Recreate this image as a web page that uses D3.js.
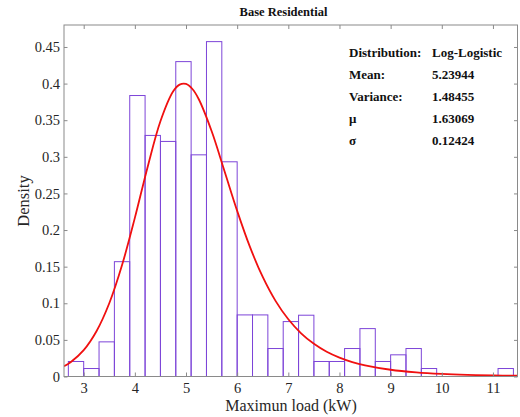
<!DOCTYPE html>
<html>
<head>
<meta charset="utf-8">
<script src="https://cdn.jsdelivr.net/npm/d3@7"></script>
<style>
  body { margin: 0; background: #fff; }
  text { font-family: "Liberation Serif", "Times New Roman", serif; }
</style>
</head>
<body>
<div id="chart"></div>
<script>
// histogram bins (kW) and their density
const binEdges = [2.7, 3.0, 3.3, 3.6, 3.9, 4.2, 4.5, 4.8, 5.1, 5.4, 5.7, 6.0, 6.3, 6.6, 6.9,
  7.2, 7.5, 7.8, 8.1, 8.4, 8.7, 9.0, 9.3, 9.6, 9.9, 10.2, 10.5, 10.8, 11.1, 11.4];
const density = [0.0205, 0.0109, 0.0473, 0.1568, 0.3837, 0.3292, 0.3210, 0.4300, 0.3027,
  0.4573, 0.2932, 0.0841, 0.0841, 0.0382, 0.0750, 0.0837, 0.0205, 0.0205, 0.0382, 0.0654,
  0.0205, 0.0296, 0.0382, 0.0109, 0, 0, 0, 0, 0.0109];

// fitted log-logistic curve
const curveX = [2.615, 2.75, 3.0, 3.25, 3.5, 3.75, 4.0, 4.25, 4.5, 4.75, 4.875, 5.0, 5.125, 5.25,
  5.5, 5.75, 6.0, 6.25, 6.5, 6.75, 7.0, 7.25, 7.5, 7.75, 8.0, 8.25, 8.5, 9.0, 9.5, 10.0, 10.5, 11.0, 11.48];
const curveY = [0.0140, 0.0198, 0.0360, 0.0618, 0.1000, 0.1522, 0.2166, 0.2862, 0.3486, 0.3895,
  0.3986, 0.3995, 0.3926, 0.3786, 0.3352, 0.2810, 0.2262, 0.1770, 0.1360, 0.1033, 0.0781, 0.0590,
  0.0446, 0.0338, 0.0258, 0.0197, 0.0152, 0.0092, 0.0057, 0.0036, 0.0023, 0.0015, 0.0010];

const xTicks = [3, 4, 5, 6, 7, 8, 9, 10, 11];
const yTicks = [0, 0.05, 0.1, 0.15, 0.2, 0.25, 0.3, 0.35, 0.4, 0.45];
const yTickLabels = ['0', '0.05', '0.1', '0.15', '0.2', '0.25', '0.3', '0.35', '0.4', '0.45'];

const statNames = ['Distribution:', 'Mean:', 'Variance:', '\u03bc', '\u03c3'];
const statValues = ['Log-Logistic', '5.23944', '1.48455', '1.63069', '0.12424'];

const width = 520;
const height = 417;
const margin = { top: 25, bottom: 40.5, left: 64, right: 2.5 };

const svg = d3.select('#chart')
  .append('svg')
  .attr('width', width)
  .attr('height', height);

const x = d3.scaleLinear()
  .domain([2.615, 11.48])
  .range([margin.left, width - margin.right]);

const y = d3.scaleLinear()
  .domain([0, 0.48])
  .range([height - margin.bottom, margin.top]);

svg.append('clipPath').attr('id', 'plot-clip')
  .append('rect')
  .attr('x', margin.left).attr('y', margin.top)
  .attr('width', width - margin.left - margin.right)
  .attr('height', height - margin.top - margin.bottom);

// bars
svg.append('g')
  .attr('fill', 'none')
  .attr('stroke', '#7d45d8')
  .attr('stroke-width', 1)
  .selectAll('rect')
  .data(density)
  .join('rect')
    .attr('x', (d, i) => x(binEdges[i]))
    .attr('y', d => y(d))
    .attr('width', (d, i) => x(binEdges[i + 1]) - x(binEdges[i]))
    .attr('height', d => y(0) - y(d));

// fitted curve
const line = d3.line()
  .x(d => x(d[0]))
  .y(d => y(d[1]))
  .curve(d3.curveCatmullRom);

svg.append('path')
  .datum(curveX.map((v, i) => [v, curveY[i]]))
  .attr('clip-path', 'url(#plot-clip)')
  .attr('fill', 'none')
  .attr('stroke', '#f01010')
  .attr('stroke-width', 1.8)
  .attr('d', line);

// axes (ticks pointing inwards, box around)
const axisColor = '#8a8a8a';
const labelColor = '#262626';

function styleAxis(g) {
  g.select('.domain').remove();
  g.selectAll('.tick line').attr('stroke', axisColor);
  g.selectAll('.tick text')
    .attr('fill', labelColor)
    .attr('font-size', '14.5px')
    .attr('font-family', '"Liberation Serif", serif');
}

svg.append('g')
  .attr('transform', `translate(0,${y(0)})`)
  .call(d3.axisBottom(x).tickValues(xTicks).tickFormat(d3.format('d'))
    .tickSizeInner(-4).tickSizeOuter(0).tickPadding(6))
  .call(styleAxis);

svg.append('g')
  .attr('transform', `translate(0,${margin.top})`)
  .call(d3.axisTop(x).tickValues(xTicks).tickFormat('')
    .tickSizeInner(-4).tickSizeOuter(0))
  .call(styleAxis);

svg.append('g')
  .attr('transform', `translate(${margin.left},0)`)
  .call(d3.axisLeft(y).tickValues(yTicks).tickFormat((d, i) => yTickLabels[i])
    .tickSizeInner(-3.5).tickSizeOuter(0).tickPadding(4))
  .call(styleAxis);

svg.append('g')
  .attr('transform', `translate(${width - margin.right},0)`)
  .call(d3.axisRight(y).tickValues(yTicks).tickFormat('')
    .tickSizeInner(-3.5).tickSizeOuter(0))
  .call(styleAxis);

svg.append('rect')
  .attr('x', margin.left)
  .attr('y', margin.top)
  .attr('width', width - margin.left - margin.right)
  .attr('height', height - margin.top - margin.bottom)
  .attr('fill', 'none')
  .attr('stroke', axisColor)
  .attr('stroke-width', 1);

// title and axis labels
svg.append('text')
  .attr('x', 283.5)
  .attr('y', 16)
  .attr('text-anchor', 'middle')
  .attr('font-size', '12.5px')
  .attr('font-weight', 'bold')
  .attr('fill', '#111')
  .text('Base Residential');

svg.append('text')
  .attr('x', 291)
  .attr('y', 410.5)
  .attr('text-anchor', 'middle')
  .attr('font-size', '16px')
  .attr('fill', labelColor)
  .text('Maximun load (kW)');

svg.append('text')
  .attr('transform', 'translate(29,201) rotate(-90)')
  .attr('text-anchor', 'middle')
  .attr('font-size', '16.5px')
  .attr('fill', labelColor)
  .text('Density');

// stats block
const stats = svg.append('g')
  .attr('font-size', '13px')
  .attr('font-weight', 'bold')
  .attr('fill', '#111');

stats.selectAll('text.name')
  .data(statNames)
  .join('text')
    .attr('class', 'name')
    .attr('x', 349)
    .attr('y', (d, i) => 57 + i * 22)
    .text(d => d);

stats.selectAll('text.value')
  .data(statValues)
  .join('text')
    .attr('class', 'value')
    .attr('x', 432)
    .attr('y', (d, i) => 57 + i * 22)
    .text(d => d);
</script>
</body>
</html>
